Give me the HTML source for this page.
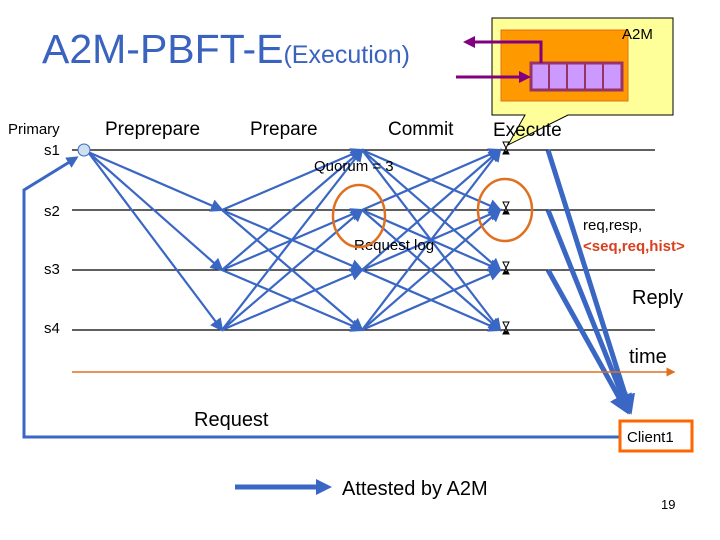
<!DOCTYPE html>
<html><head><meta charset="utf-8"><style>
body{margin:0;width:720px;height:540px;background:#fff;overflow:hidden}
svg{display:block}
text{font-family:"Liberation Sans",sans-serif}
</style></head><body>
<svg width="720" height="540" viewBox="0 0 720 540" xmlns="http://www.w3.org/2000/svg">
<defs>
<marker id="a" markerWidth="6" markerHeight="6" refX="5" refY="3" orient="auto" markerUnits="strokeWidth"><path d="M0,0 L6,3 L0,6 z" fill="#3a66c4"/></marker>
<marker id="ab" markerWidth="4" markerHeight="4" refX="3" refY="2" orient="auto" markerUnits="strokeWidth"><path d="M0,0 L4,2 L0,4 z" fill="#3a66c4"/></marker>
<marker id="ap" markerWidth="4" markerHeight="4" refX="3" refY="2" orient="auto" markerUnits="strokeWidth"><path d="M0,0 L4,2 L0,4 z" fill="#800080"/></marker>
<marker id="ao" markerWidth="6" markerHeight="6" refX="5" refY="3" orient="auto" markerUnits="strokeWidth"><path d="M0,0 L6,3 L0,6 z" fill="#e07020"/></marker>
<g id="hg"><path d="M-3,-6 H3 L0,0 L3,6 H-3 L0,0 Z" fill="#fff" stroke="#000" stroke-width="1"/><path d="M-3,6 H3 L0,2 Z" fill="#000"/></g>
</defs>
<text x="42" y="63" font-size="41" fill="#3a62bf">A2M-PBFT-E<tspan font-size="25">(Execution)</tspan></text>
<path d="M492,18 H673 V115 H568 L508,145 L525,115 H492 Z" fill="#ffff99" stroke="#000" stroke-width="1"/>
<rect x="501" y="30" width="127" height="71" fill="#ff9900" stroke="#e07020"/>
<text x="622" y="39" font-size="15">A2M</text>
<rect x="531" y="63" width="91" height="27" fill="#cc99ff" stroke="#993366" stroke-width="3"/>
<g stroke="#993366" stroke-width="2"><line x1="549" y1="63" x2="549" y2="90"/><line x1="567" y1="63" x2="567" y2="90"/><line x1="585" y1="63" x2="585" y2="90"/><line x1="603" y1="63" x2="603" y2="90"/></g>
<polyline points="541,63 541,42 466,42" fill="none" stroke="#800080" stroke-width="3" marker-end="url(#ap)"/>
<line x1="456" y1="77" x2="528" y2="77" stroke="#800080" stroke-width="3" marker-end="url(#ap)"/>
<text x="8" y="134" font-size="15">Primary</text>
<text x="44" y="155" font-size="15">s1</text>
<text x="44" y="216" font-size="15">s2</text>
<text x="44" y="274" font-size="15">s3</text>
<text x="44" y="333" font-size="15">s4</text>
<text x="105" y="135" font-size="19">Preprepare</text>
<text x="250" y="135" font-size="19">Prepare</text>
<text x="388" y="135" font-size="19">Commit</text>
<text x="493" y="136" font-size="19">Execute</text>
<g stroke="#000" stroke-width="1.2"><line x1="72" y1="150" x2="655" y2="150"/><line x1="72" y1="210" x2="655" y2="210"/><line x1="72" y1="270" x2="655" y2="270"/><line x1="72" y1="330" x2="655" y2="330"/></g>
<g stroke="#3a66c4" stroke-width="2.2" fill="none" marker-end="url(#a)">
<line x1="88" y1="152" x2="222" y2="210"/><line x1="88" y1="152" x2="222" y2="270"/><line x1="88" y1="152" x2="222" y2="330"/>
<line x1="222" y1="210" x2="362" y2="150"/><line x1="222" y1="210" x2="362" y2="270"/><line x1="222" y1="210" x2="362" y2="330"/>
<line x1="222" y1="270" x2="362" y2="150"/><line x1="222" y1="270" x2="362" y2="210"/><line x1="222" y1="270" x2="362" y2="330"/>
<line x1="222" y1="330" x2="362" y2="150"/><line x1="222" y1="330" x2="362" y2="210"/><line x1="222" y1="330" x2="362" y2="270"/>
<line x1="362" y1="150" x2="500" y2="210"/><line x1="362" y1="150" x2="500" y2="270"/><line x1="362" y1="150" x2="500" y2="330"/>
<line x1="362" y1="210" x2="500" y2="150"/><line x1="362" y1="210" x2="500" y2="270"/><line x1="362" y1="210" x2="500" y2="330"/>
<line x1="362" y1="270" x2="500" y2="150"/><line x1="362" y1="270" x2="500" y2="210"/><line x1="362" y1="270" x2="500" y2="330"/>
<line x1="362" y1="330" x2="500" y2="150"/><line x1="362" y1="330" x2="500" y2="210"/><line x1="362" y1="330" x2="500" y2="270"/>
</g>
<circle cx="84" cy="150" r="6" fill="#cce0f0" stroke="#3a66c4"/>
<use href="#hg" x="506" y="148"/><use href="#hg" x="506" y="208"/><use href="#hg" x="506" y="268"/><use href="#hg" x="506" y="328"/>
<text x="314" y="171" font-size="15">Quorum = 3</text>
<text x="354" y="250" font-size="15">Request log</text>
<ellipse cx="359" cy="216" rx="26" ry="31" fill="none" stroke="#e07020" stroke-width="2.5"/>
<ellipse cx="505" cy="210" rx="27" ry="31" fill="none" stroke="#e07020" stroke-width="2.5"/>
<g stroke="#3a66c4" stroke-width="5" fill="none" marker-end="url(#ab)">
<line x1="548" y1="150" x2="630" y2="410"/><line x1="548" y1="210" x2="628" y2="410"/><line x1="548" y1="270" x2="626" y2="410"/>
</g>
<text x="583" y="230" font-size="15">req,resp,</text>
<text x="583" y="251" font-size="15" font-weight="bold" fill="#d84020">&lt;seq,req,hist&gt;</text>
<text x="632" y="304" font-size="20">Reply</text>
<text x="629" y="363" font-size="20">time</text>
<line x1="72" y1="372" x2="674" y2="372" stroke="#e07020" stroke-width="1.5" marker-end="url(#ao)"/>
<polyline points="620,437 24,437 24,190 76,158" fill="none" stroke="#3a66c4" stroke-width="3" marker-end="url(#ab)"/>
<text x="194" y="426" font-size="20">Request</text>
<rect x="620" y="421" width="72" height="30" fill="#fff" stroke="#ff6600" stroke-width="3"/>
<text x="627" y="442" font-size="15">Client1</text>
<line x1="235" y1="487" x2="318" y2="487" stroke="#3a66c4" stroke-width="5"/>
<path d="M316,479 L332,487 L316,495 z" fill="#3a66c4"/>
<text x="342" y="495" font-size="20">Attested by A2M</text>
<text x="661" y="509" font-size="13">19</text>
</svg>
</body></html>
